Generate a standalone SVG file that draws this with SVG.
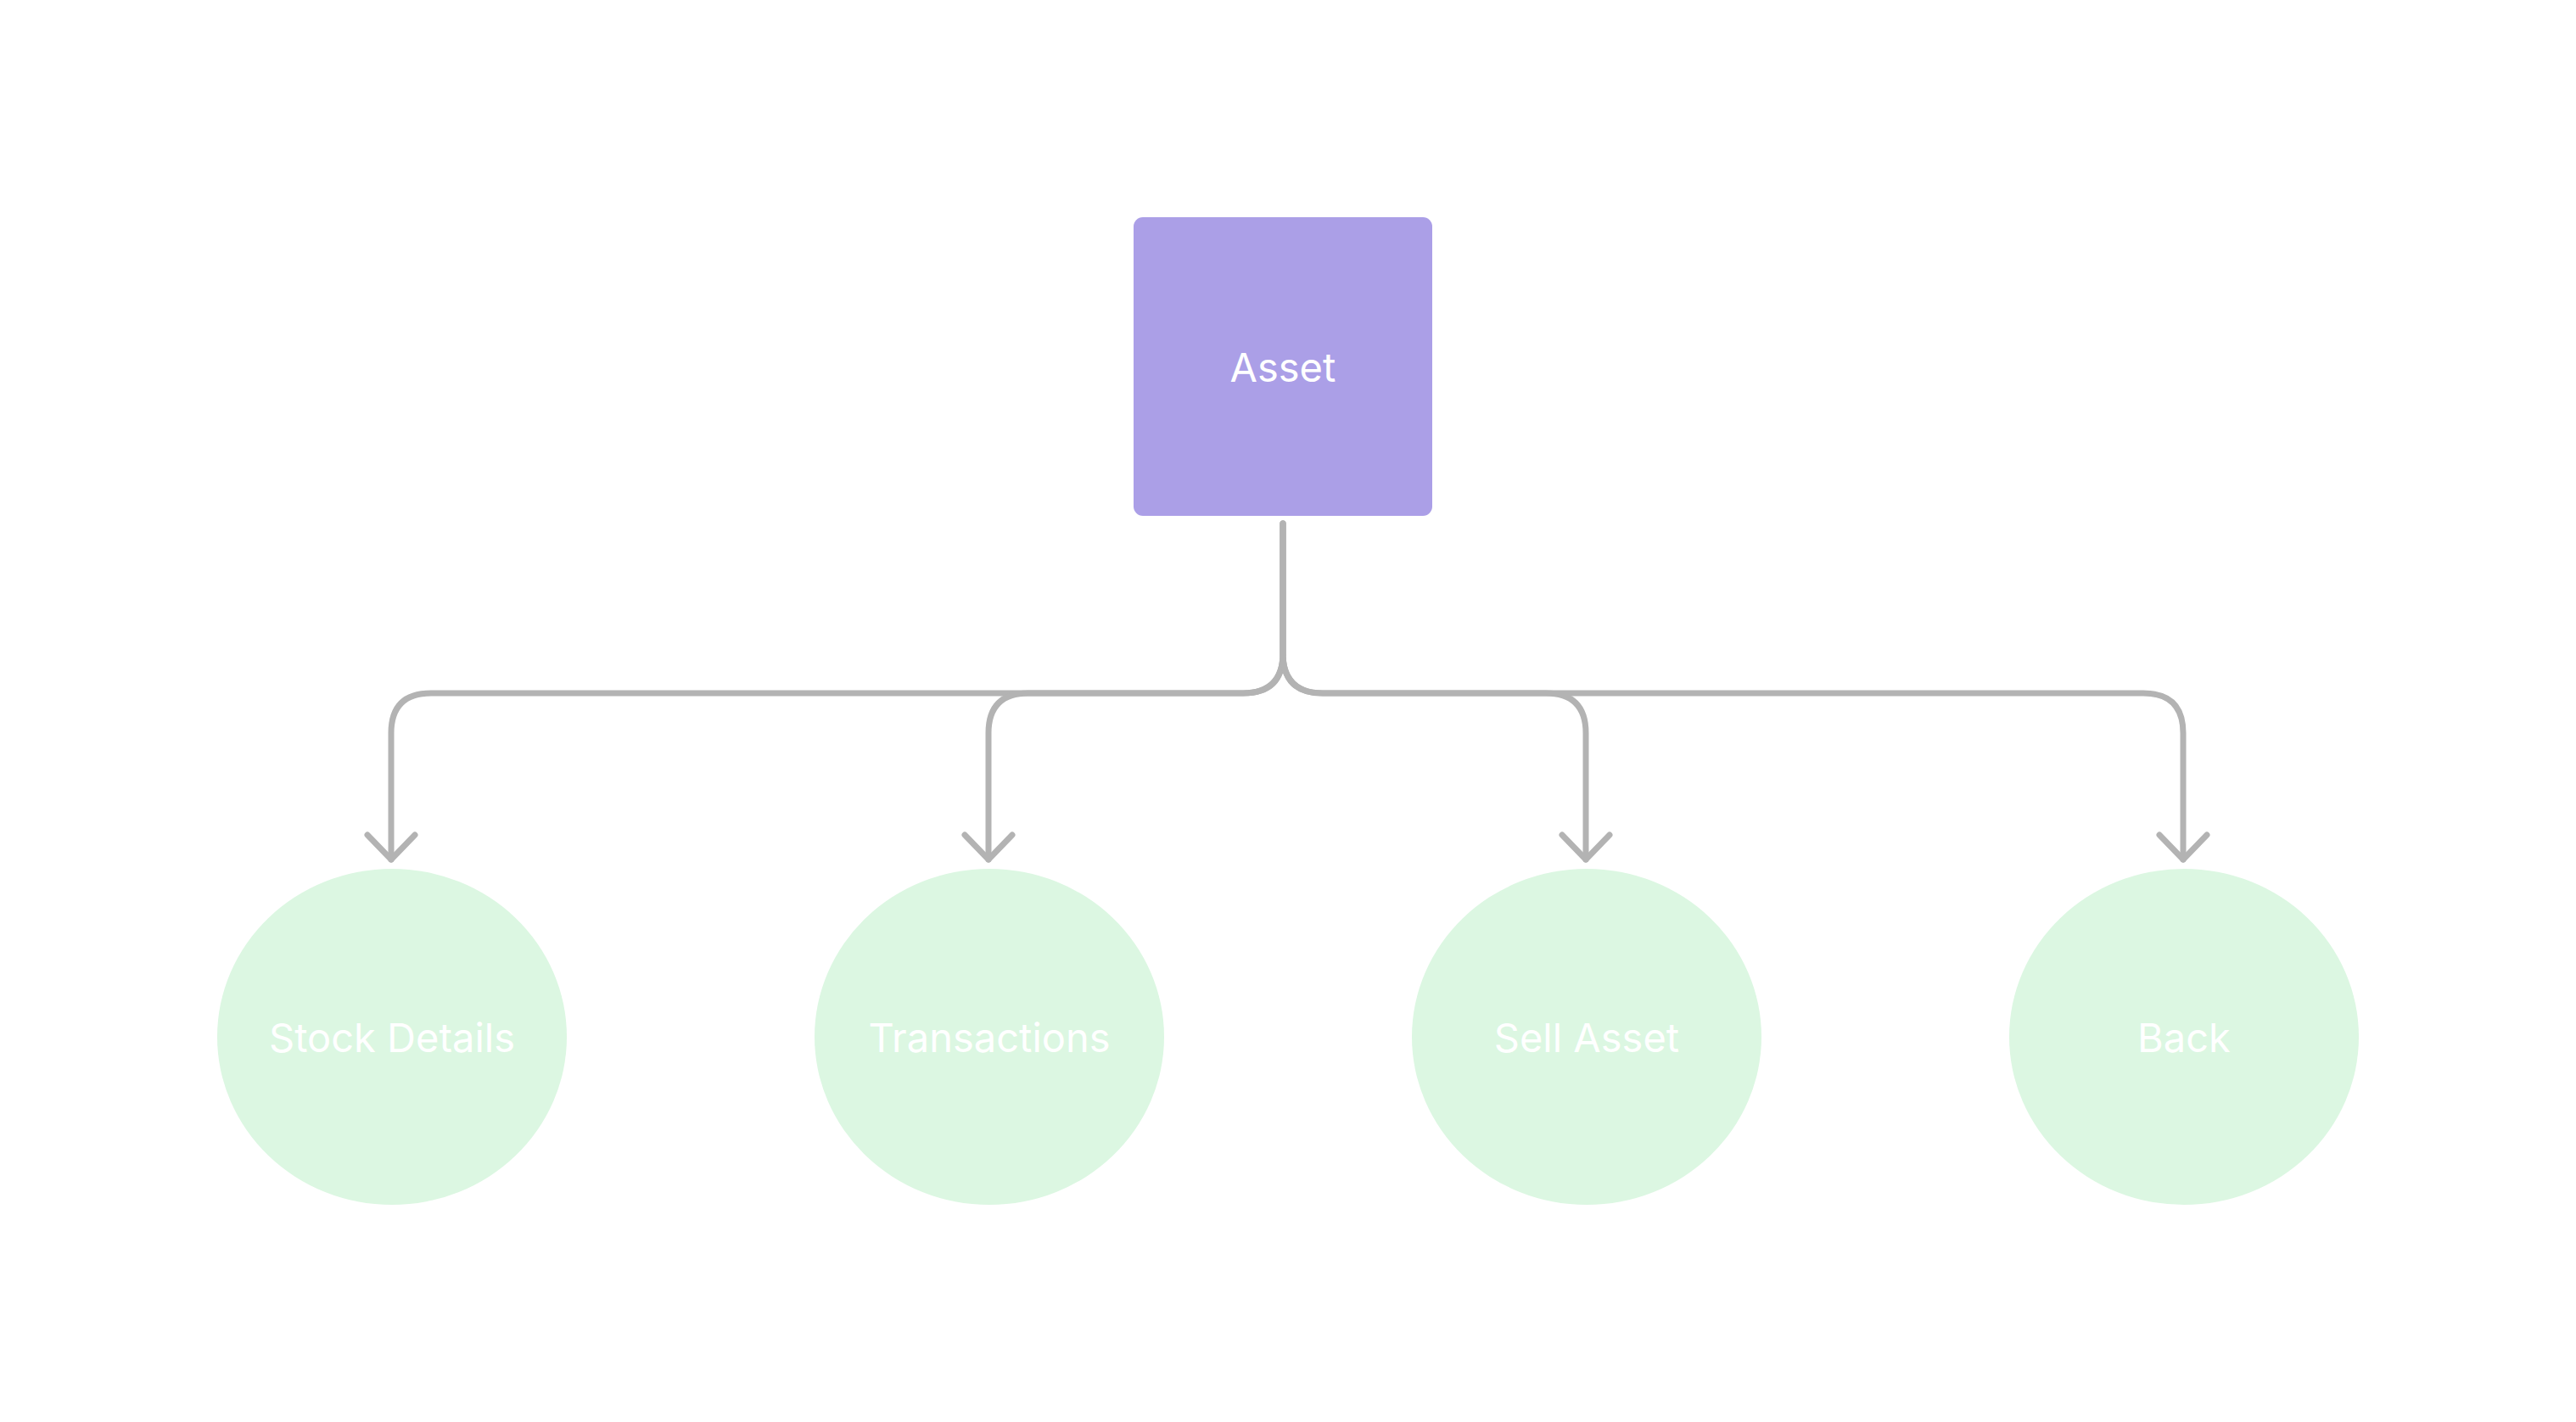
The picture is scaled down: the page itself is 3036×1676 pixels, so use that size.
<svg xmlns="http://www.w3.org/2000/svg" width="3036" height="1676" viewBox="0 0 3036 1676">
<style>
.lbl{font-family:Inter,"Noto Sans","Liberation Sans",sans-serif;font-size:47px;fill:#ffffff;text-anchor:middle}
.child{fill:#dcf7e2}
.conn{fill:none;stroke:#b3b3b3;stroke-width:7;stroke-linecap:round;stroke-linejoin:round}
</style>
<defs>
<marker id="arr" markerUnits="userSpaceOnUse" viewBox="-38 -36 44 72" refX="0" refY="0" markerWidth="44" markerHeight="72" orient="auto">
<path d="M-29,-28 L0,0 L-29,28" fill="none" stroke="#b3b3b3" stroke-width="7" stroke-linecap="round" stroke-linejoin="round"/>
</marker>
</defs>
<rect width="3036" height="1676" fill="#ffffff"/>
<g id="connectors">
<path class="conn" d="M1512,617 V770 Q1512,817 1465,817 H508 Q461,817 461,864 V1013" marker-end="url(#arr)"/>
<path class="conn" d="M1512,617 V770 Q1512,817 1465,817 H1212 Q1165,817 1165,864 V1013" marker-end="url(#arr)"/>
<path class="conn" d="M1512,617 V770 Q1512,817 1559,817 H1822 Q1869,817 1869,864 V1013" marker-end="url(#arr)"/>
<path class="conn" d="M1512,617 V770 Q1512,817 1559,817 H2526 Q2573,817 2573,864 V1013" marker-end="url(#arr)"/>
</g>
<g id="asset">
<rect x="1336" y="256" width="352" height="352" rx="11" fill="#ab9fe7"/>
<text class="lbl" x="1512" y="450">Asset</text>
</g>
<g id="stock-details">
<ellipse class="child" cx="462" cy="1222" rx="206" ry="198"/>
<text class="lbl" x="462" y="1240">Stock Details</text>
</g>
<g id="transactions">
<ellipse class="child" cx="1166" cy="1222" rx="206" ry="198"/>
<text class="lbl" x="1166" y="1240">Transactions</text>
</g>
<g id="sell-asset">
<ellipse class="child" cx="1870" cy="1222" rx="206" ry="198"/>
<text class="lbl" x="1870" y="1240">Sell Asset</text>
</g>
<g id="back">
<ellipse class="child" cx="2574" cy="1222" rx="206" ry="198"/>
<text class="lbl" x="2574" y="1240">Back</text>
</g>
</svg>
